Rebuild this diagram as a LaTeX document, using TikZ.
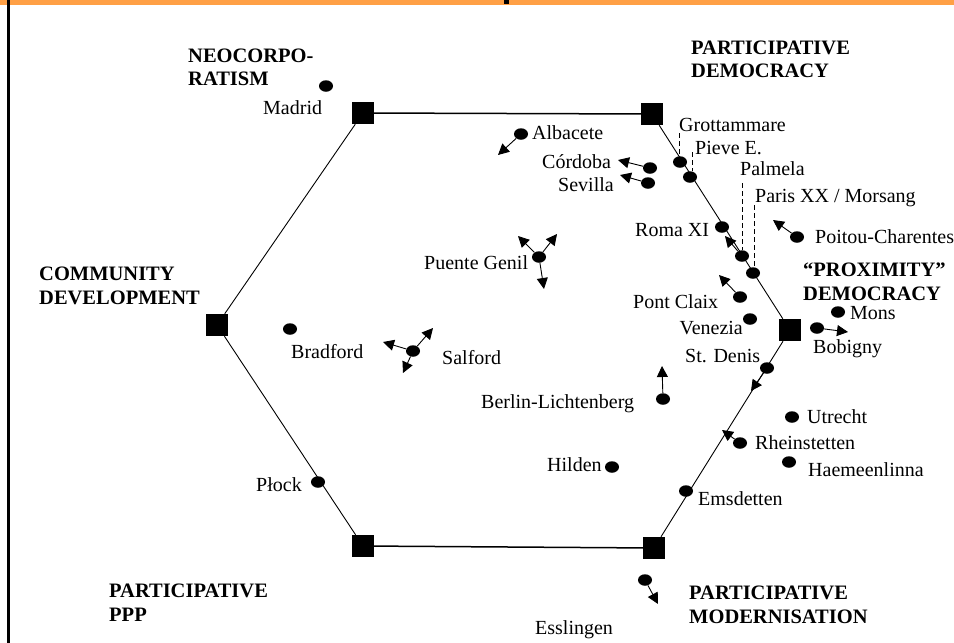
\documentclass[tikz,border=0pt]{standalone}
\usepackage{fontspec}
\setmainfont{Liberation Serif}
\usetikzlibrary{arrows.meta,shapes.geometric}
\definecolor{barorange}{RGB}{255,160,70}
\begin{document}
\begin{tikzpicture}[x=1pt,y=-1pt,
  sq/.style={fill=black,draw=none,minimum size=22pt,inner sep=0pt},
  dot/.style={ellipse,fill=black,draw=none,minimum width=14pt,minimum height=11.5pt,inner sep=0pt},
  lbl/.style={font=\fontsize{20}{23}\selectfont,inner sep=0pt,anchor=west,text height=15pt,text depth=3pt},
  lble/.style={lbl,anchor=east},
  blbl/.style={font=\fontsize{20.5}{23.5}\selectfont\bfseries,inner sep=0pt,align=left,anchor=north west},
  hex/.style={line width=0.9pt},
  hexthick/.style={line width=1.5pt},
  arr/.style={line width=0.9pt,-{Triangle[length=11pt,width=11pt]}},
  dsh/.style={line width=0.9pt,dash pattern=on 5pt off 3pt}]
\useasboundingbox (0,0) rectangle (954,643);
\fill[white] (0,0) rectangle (954,643);
% frame bits
\fill[barorange] (0,0) rectangle (954,5);
\fill[black] (7,0) rectangle (9.5,643);
\fill[black] (504,0) rectangle (509,3.5);
% hexagon corners
\node[sq] (nw) at (363,113) {};
\node[sq] (ne) at (652,114) {};
\node[sq] (e)  at (790,330) {};
\node[sq] (se) at (654,548) {};
\node[sq] (sw) at (363,546) {};
\node[sq] (w)  at (217,325) {};
\draw[hexthick] (nw) -- (ne);
\draw[hexthick] (se) -- (sw);
\draw[hex] (ne) -- (e) -- (se);
\draw[hex] (sw) -- (w) -- (nw);
% corner labels
\node[blbl] (neo) at (188,48.5) {NEOCORPO-\\RATISM};
\node[blbl] (pd) at (691,40.5) {PARTICIPATIVE\\DEMOCRACY};
\node[blbl] (cd) at (39,267) {COMMUNITY\\DEVELOPMENT};
\node[blbl] (prox) at (803,263) {“PROXIMITY”\\DEMOCRACY};
\node[blbl] (ppp) at (109,584) {PARTICIPATIVE\\PPP};
\node[blbl] (pm) at (689,586) {PARTICIPATIVE\\MODERNISATION};
% dots
\node[dot] (madd) at (326,86) {};
\node[dot] (albd) at (521,134) {};
\node[dot] (cord) at (650,168) {};
\node[dot] (sevd) at (648,183) {};
\node[dot] (grod) at (680,162) {};
\node[dot] (pied) at (690,177) {};
\node[dot] (romd) at (722,227) {};
\node[dot] (pald) at (742,256) {};
\node[dot] (pard) at (753,273) {};
\node[dot] (poid) at (797,237) {};
\node[dot] (puend) at (539,257) {};
\node[dot] (pond) at (740,297) {};
\node[dot] (vend) at (750,319) {};
\node[dot] (mond) at (838,312) {};
\node[dot] (bobd) at (817,328) {};
\node[dot] (stdd) at (767,368) {};
\node[dot] (bradd) at (290,329) {};
\node[dot] (sald) at (413,351) {};
\node[dot] (berd) at (663,399) {};
\node[dot] (utrd) at (792,417) {};
\node[dot] (rhed) at (740,443) {};
\node[dot] (haed) at (789,462) {};
\node[dot] (hild) at (612,467) {};
\node[dot] (emsd) at (686,491) {};
\node[dot] (plod) at (318,482) {};
\node[dot] (essd) at (645,580) {};
% labels
\node[lbl] (madl) at (263,108) {Madrid};
\node[lbl] (albl) at (532,133) {Albacete};
\node[lbl] (corl) at (542,162) {Córdoba};
\node[lbl] (sevl) at (558,185) {Sevilla};
\node[lbl] (grol) at (679,125) {Grottammare};
\node[lbl] (piel) at (695,148) {Pieve E.};
\node[lbl] (pall) at (740,169) {Palmela};
\node[lbl] (parl) at (755,196) {Paris XX / Morsang};
\node[lbl] (roml) at (635,230) {Roma XI};
\node[lbl] (poil) at (815,237) {Poitou-Charentes};
\node[lbl] (puenl) at (424,263) {Puente Genil};
\node[lbl] (ponl) at (633,302) {Pont Claix};
\node[lble] (venl) at (743,328) {Venezia};
\node[lbl] (monl) at (850,313) {Mons};
\node[lbl] (bobl) at (813,347) {Bobigny};
\node[lbl] (stdl) at (685,356) {St. Denis};
\node[lbl] (bradl) at (291,352) {Bradford};
\node[lbl] (sall) at (442,358) {Salford};
\node[lbl] (berl) at (481,402) {Berlin-Lichtenberg};
\node[lbl] (utrl) at (807,417) {Utrecht};
\node[lbl] (rhel) at (755,443) {Rheinstetten};
\node[lbl] (hael) at (808,470) {Haemeenlinna};
\node[lbl] (hill) at (547,465) {Hilden};
\node[lbl] (emsl) at (698,499) {Emsdetten};
\node[lbl] (plol) at (256,485) {Płock};
\node[lbl] (essl) at (535,628) {Esslingen};
% dashed leaders
\coordinate (grotop) at (679,133);
\coordinate (pietop) at (692,152);
\coordinate (paltop) at (742,183);
\coordinate (partop) at (754,205);
\draw[dsh] (grotop) -- (grotop |- grod.north);
\draw[dsh] (pietop) -- (pietop |- pied.north);
\draw[dsh] (paltop) -- (paltop |- pald.north);
\draw[dsh] (partop) -- (partop |- pard.north);
% arrow tips
\coordinate (albt) at (498,155);
\coordinate (cort) at (618,160);
\coordinate (sevt) at (620,175);
\coordinate (palt) at (725,236);
\coordinate (poit) at (773,220);
\coordinate (pont) at (719,275);
\coordinate (bobt) at (848,332);
\coordinate (stdt) at (751,391);
\coordinate (bert) at (662,366);
\coordinate (rhet) at (722,430);
\coordinate (salt1) at (383,342);
\coordinate (salt2) at (433,328);
\coordinate (salt3) at (403,373);
\coordinate (puent1) at (518,236);
\coordinate (puent2) at (557,234);
\coordinate (puent3) at (544,289);
\coordinate (esst) at (658,604);
% arrows
\draw[arr] (albd) -- (albt);
\draw[arr] (cord) -- (cort);
\draw[arr] (sevd) -- (sevt);
\draw[arr] (pald) -- (palt);
\draw[arr] (poid) -- (poit);
\draw[arr] (pond) -- (pont);
\draw[arr] (bobd) -- (bobt);
\draw[arr] (stdd) -- (stdt);
\draw[arr] (berd) -- (bert);
\draw[arr] (rhed) -- (rhet);
\draw[arr] (sald) -- (salt1);
\draw[arr] (sald) -- (salt2);
\draw[arr] (sald) -- (salt3);
\draw[arr] (puend) -- (puent1);
\draw[arr] (puend) -- (puent2);
\draw[arr] (puend) -- (puent3);
\draw[arr] (essd) -- (esst);
\end{tikzpicture}
\end{document}
